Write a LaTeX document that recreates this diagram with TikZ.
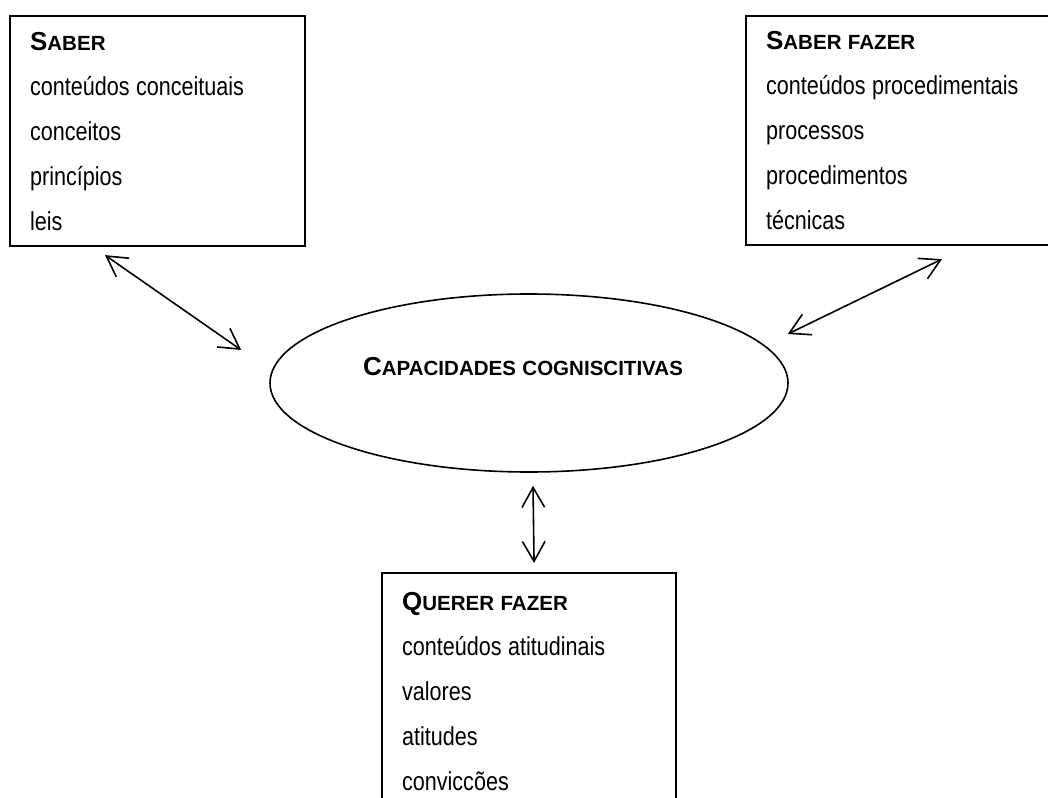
\documentclass[tikz,border=0pt]{standalone}
\usepackage{fontspec}
\setmainfont{Liberation Sans}[FakeStretch=0.83]
\newfontfamily\headfont{Liberation Sans}
\usetikzlibrary{arrows.meta,positioning,shapes.geometric}

\newcommand\fakesc[2]{{\headfont\bfseries #1{\fontsize{15.4pt}{33.75pt}\selectfont #2}}}
\newcommand\boxfont{\fontsize{19.5pt}{33.75pt}\selectfont}
\newcommand\tightspace{\spaceskip=4.8pt plus 1pt minus 1pt\relax}

\begin{document}
\begin{tikzpicture}[x=0.75pt,y=-0.75pt,
  listbox/.style={draw,line width=1.6pt,anchor=north west,align=left,
    inner xsep=15pt,inner ysep=0pt,font=\boxfont,execute at begin node=\tightspace},
  capnode/.style={draw,ellipse,line width=1.2pt,inner sep=0pt,
    minimum width=388.5pt,minimum height=133.5pt,font=\boxfont,execute at begin node=\tightspace},
  link/.style={line width=1.2pt,
    {Straight Barb[length=15pt,width=17pt,line width=1.2pt]}-{Straight Barb[length=15pt,width=17pt,line width=1.2pt]}}]
  \useasboundingbox (0,0) rectangle (1048,798);
  \clip (0,0) rectangle (1048,798);
  \node[listbox,minimum width=221.25pt,minimum height=172.5pt,text width=191.25pt] (saber) at (9,15)
    {\fakesc{S}{ABER}\\ conteúdos conceituais\\ conceitos\\ princípios\\ leis};
  \node[listbox,minimum width=240pt,minimum height=171.75pt,text width=210pt] (fazer) at (745,15)
    {\fakesc{S}{ABER FAZER}\\ conteúdos procedimentais\\ processos\\ procedimentos\\ técnicas};
  \node[listbox,minimum width=220.5pt,minimum height=177pt,text width=190.5pt] (querer) at (381,572)
    {\fakesc{Q}{UERER FAZER}\\ conteúdos atitudinais\\ valores\\ atitudes\\ conviccões};
  \node[capnode] (cap) at (529,383)
    {\raisebox{6pt}[0pt][0pt]{\hspace*{-9pt}\fakesc{C}{APACIDADES COGNISCITIVAS}}};
  \draw[link] ([shift={(96,8)}]saber.south west) -- ([shift={(-28,-33)}]cap.west);
  \draw[link] ([shift={(197,13)}]fazer.south west) -- ([shift={(-1,-49)}]cap.east);
  \draw[link] ([shift={(4,13)}]cap.south) -- ([shift={(5,-9)}]querer.north);
\end{tikzpicture}
\end{document}
